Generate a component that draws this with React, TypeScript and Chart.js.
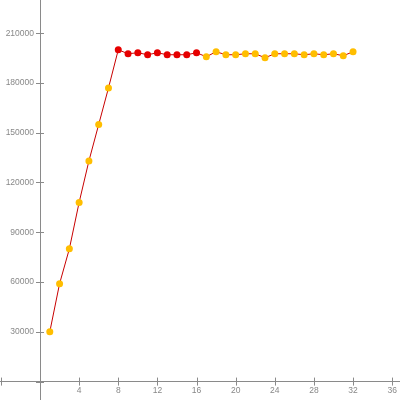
import React, { useEffect, useRef } from "react";
import { Chart, registerables } from "chart.js";

Chart.register(...registerables);

const xValues = [1, 2, 3, 4, 5, 6, 7, 8, 9, 10, 11, 12, 13, 14, 15, 16, 17, 18, 19, 20, 21, 22, 23, 24, 25, 26, 27, 28, 29, 30, 31, 32];
const yValues = [30000, 59000, 80000, 108000, 133000, 155000, 177000, 200000, 197600, 198200, 197000, 198200, 197000, 197000, 197000, 198200, 195800, 198800, 197000, 197000, 197600, 197600, 195200, 197600, 197600, 197600, 197000, 197600, 197000, 197600, 196400, 198800];
const highlighted = [8, 9, 10, 11, 12, 13, 14, 15, 16];
const xTicks = [-4, 0, 4, 8, 12, 16, 20, 24, 28, 32, 36];
const yTicks = [0, 30000, 60000, 90000, 120000, 150000, 180000, 210000];

const RED = "rgb(230,0,0)";
const ORANGE = "rgb(255,190,0)";
const AXIS = "#8a8a8a";
const LABEL = "#888";
const FONT = { family: "Liberation Sans", size: 8.5 };

const crossTicks = {
  id: "crossTicks",
  afterDraw(chart: any) {
    const ctx = chart.ctx;
    const xs = chart.scales.x;
    const ys = chart.scales.y;
    const x0 = xs.getPixelForValue(0);
    const y0 = ys.getPixelForValue(0);
    ctx.save();
    ctx.strokeStyle = AXIS;
    ctx.lineWidth = 1;
    ctx.beginPath();
    xs.ticks.forEach((t: any) => {
      const px = Math.round(xs.getPixelForValue(t.value)) + 0.5;
      ctx.moveTo(px, y0 - 4);
      ctx.lineTo(px, y0 + 4);
    });
    ys.ticks.forEach((t: any) => {
      const py = Math.round(ys.getPixelForValue(t.value)) + 0.5;
      ctx.moveTo(x0 - 4, py);
      ctx.lineTo(x0 + 4, py);
    });
    ctx.stroke();
    ctx.fillStyle = LABEL;
    ctx.font = `${FONT.size}px "${FONT.family}"`;
    ctx.textAlign = "right";
    ctx.textBaseline = "middle";
    ys.ticks.forEach((t: any) => {
      if (t.value <= 0) return;
      const py = ys.getPixelForValue(t.value);
      ctx.fillText(String(t.value), x0 - 6, py);
    });
    ctx.restore();
  },
};

export default function App() {
  const ref = useRef<HTMLCanvasElement>(null);
  useEffect(() => {
    document.body.style.margin = "0";
    const colors = xValues.map((x) => (highlighted.includes(x) ? RED : ORANGE));
    const chart = new Chart(ref.current!, {
      type: "line",
      data: {
        datasets: [
          {
            data: xValues.map((x, i) => ({ x, y: yValues[i] })),
            borderColor: "rgb(200,0,0)",
            borderWidth: 1,
            pointBackgroundColor: colors,
            pointBorderColor: colors,
            pointRadius: 3.5,
            pointBorderWidth: 0,
            tension: 0,
          },
        ],
      },
      options: {
        animation: false,
        responsive: false,
        maintainAspectRatio: false,
        layout: { padding: 0, autoPadding: false } as any,
        plugins: { legend: { display: false }, tooltip: { enabled: false } },
        scales: {
          x: {
            type: "linear",
            position: { y: 0 } as any,
            min: -4.09,
            max: 36.8,
            afterBuildTicks: (s: any) => {
              s.ticks = xTicks.map((v) => ({ value: v }));
            },
            afterFit: (s: any) => {
              s.paddingLeft = 0;
              s.paddingRight = 0;
              s.paddingTop = 0;
              s.paddingBottom = 0;
            },
            ticks: {
              autoSkip: false,
              maxRotation: 0,
              color: LABEL,
              font: FONT,
              padding: 4,
              callback: (v: any) => (Number(v) > 0 ? String(v) : ""),
            },
            grid: { display: false, drawTicks: false },
            border: { display: true, color: AXIS, width: 1 },
          },
          y: {
            type: "linear",
            position: { x: 0 } as any,
            min: -11100,
            max: 230000,
            afterBuildTicks: (s: any) => {
              s.ticks = yTicks.map((v) => ({ value: v }));
            },
            afterFit: (s: any) => {
              s.paddingLeft = 0;
              s.paddingRight = 0;
              s.paddingTop = 0;
              s.paddingBottom = 0;
            },
            ticks: { display: false },
            grid: { display: false, drawTicks: false },
            border: { display: true, color: AXIS, width: 1 },
          },
        },
      },
      plugins: [crossTicks],
    });
    return () => chart.destroy();
  }, []);
  return (
    <div style={{ position: "absolute", left: 0, top: 0, width: 400, height: 400 }}>
      <canvas ref={ref} width={400} height={400} />
    </div>
  );
}
